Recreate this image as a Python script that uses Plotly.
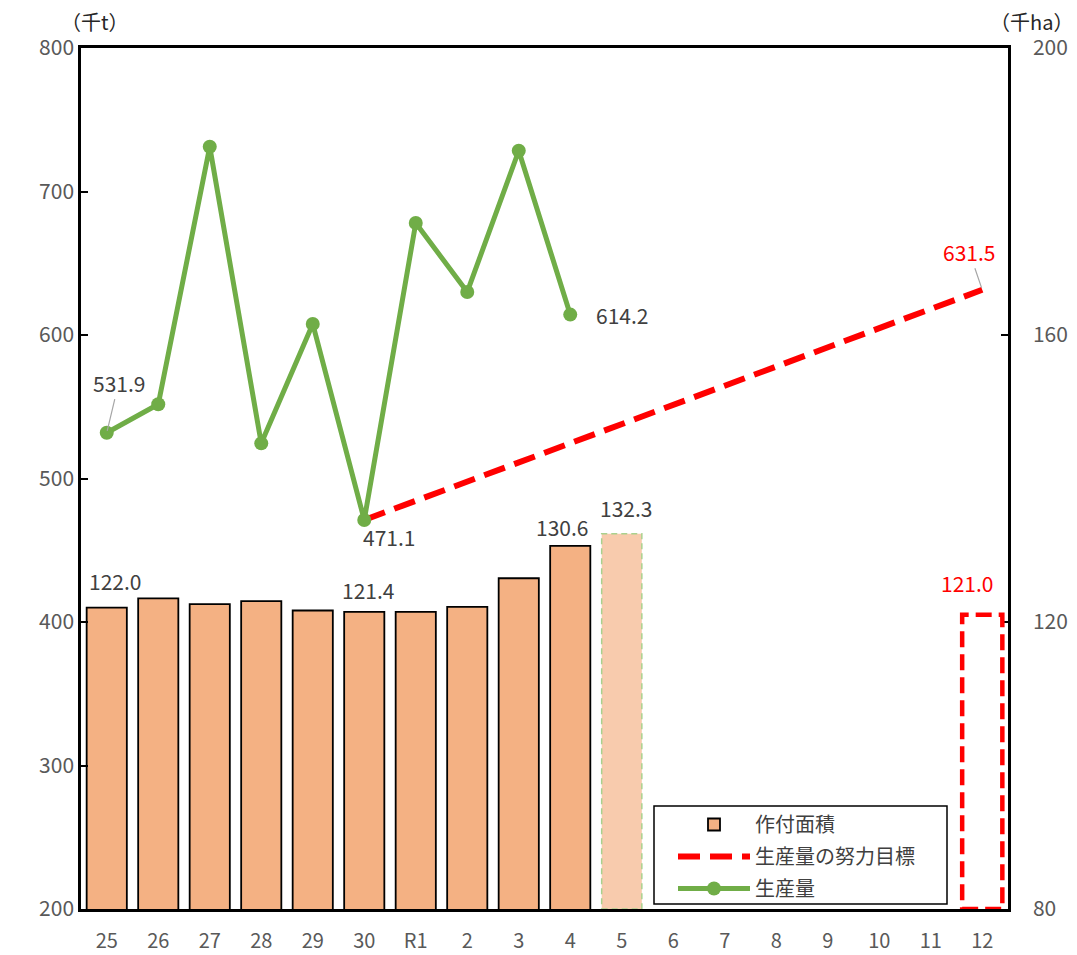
import plotly.graph_objects as go

# ---------------- data ----------------
categories = ["25", "26", "27", "28", "29", "30", "R1", "2", "3", "4",
              "5", "6", "7", "8", "9", "10", "11", "12"]

# 作付面積 (千ha), 25 .. 4
area_years = ["25", "26", "27", "28", "29", "30", "R1", "2", "3", "4"]
area_values = [122.0, 123.3, 122.5, 122.9, 121.6, 121.4, 121.4, 122.1, 126.1, 130.6]

# 5 (見込み) and 12 (目標)
area_est_year = "5"
area_est_value = 132.3
area_target_year = "12"
area_target_value = 121.0

# 生産量 (千t), 25 .. 4
prod_years = ["25", "26", "27", "28", "29", "30", "R1", "2", "3", "4"]
prod_values = [531.9, 551.7, 731.2, 524.5, 607.7, 471.1, 678.0, 630.0, 728.4, 614.2]

# 生産量の努力目標
target_years = ["30", "12"]
target_values = [471.1, 631.5]

left_ticks = [200, 300, 400, 500, 600, 700, 800]
right_ticks = [80, 120, 160, 200]

# ---------------- styling ----------------
FONT = "Noto Sans CJK JP, Noto Sans, sans-serif"
TICK_COLOR = "#595959"
LABEL_COLOR = "#404040"
BAR_FILL = "#F4B183"
BAR_EST_FILL = "#F8CBAD"
GREEN = "#70AD47"
RED = "#FF0000"
BAR_W = 0.78
LBL = 21

# plot-area geometry (figure px); page body margin of 8px compensated
FIG_W, FIG_H = 1069, 947
M_L, M_R, M_T, M_B = 73, 69, 40, 46
PW = FIG_W - M_L - M_R
PH = FIG_H - M_T - M_B


def px_x(vx):  # viewport x -> paper fraction
    return (vx - 8 - M_L) / PW


def px_y(vy):  # viewport y -> paper fraction
    return 1 - (vy - 8 - M_T) / PH


idx = {c: i for i, c in enumerate(categories)}
area_map = dict(zip(area_years, area_values))

fig = go.Figure()

# main bars
fig.add_trace(go.Bar(
    x=[idx[c] for c in area_years], y=area_values,
    width=BAR_W, name="作付面積", legendgroup="a",
    marker=dict(color=BAR_FILL, line=dict(color="black", width=1.8)),
    yaxis="y", hoverinfo="skip",
))

# target line
fig.add_trace(go.Scatter(
    x=[idx[c] for c in target_years], y=target_values, mode="lines",
    name="生産量の努力目標", legendgroup="b",
    line=dict(color=RED, width=6, dash="22px,10px"),
    yaxis="y2", hoverinfo="skip",
))

# production line
fig.add_trace(go.Scatter(
    x=[idx[c] for c in prod_years], y=prod_values, mode="lines+markers",
    name="生産量", legendgroup="c",
    line=dict(color=GREEN, width=5),
    marker=dict(color=GREEN, size=14),
    yaxis="y2", hoverinfo="skip", cliponaxis=False,
))

# estimated bar (5)
fig.add_trace(go.Bar(
    x=[idx[area_est_year]], y=[area_est_value], width=BAR_W,
    marker=dict(color=BAR_EST_FILL, line=dict(width=0)),
    showlegend=False, yaxis="y", hoverinfo="skip",
))

# target bar (12) – outline drawn as shape
fig.add_trace(go.Bar(
    x=[idx[area_target_year]], y=[area_target_value], width=BAR_W,
    marker=dict(color="rgba(255,255,255,0)", line=dict(width=0)),
    showlegend=False, yaxis="y", hoverinfo="skip",
))

shapes = [
    dict(type="rect", xref="x", yref="y",
         x0=idx[area_est_year] - BAR_W / 2, x1=idx[area_est_year] + BAR_W / 2,
         y0=right_ticks[0], y1=area_est_value,
         line=dict(color="#A9D18E", width=1.5, dash="6px,4px"), layer="above"),
    dict(type="rect", xref="x", yref="y",
         x0=idx[area_target_year] - BAR_W / 2, x1=idx[area_target_year] + BAR_W / 2,
         y0=right_ticks[0], y1=area_target_value,
         line=dict(color=RED, width=4.5, dash="16px,7px"), layer="above"),
    # legend frame
    dict(type="rect", xref="paper", yref="paper",
         x0=px_x(654), x1=px_x(947), y0=px_y(904), y1=px_y(806),
         fillcolor="white", line=dict(color="black", width=1.5), layer="above"),
]


def bar_label(cat, val, color, xs, ys):
    return dict(x=idx[cat], y=val, xref="x", yref="y", text=f"{val:.1f}",
                showarrow=False, xshift=xs, yshift=ys, yanchor="middle",
                font=dict(size=LBL, color=color, family=FONT))


annotations = [
    bar_label("25", area_map["25"], LABEL_COLOR, 8, 27),
    bar_label("30", area_map["30"], LABEL_COLOR, 4, 22),
    bar_label("4", area_map["4"], LABEL_COLOR, -8, 19),
    bar_label(area_est_year, area_est_value, LABEL_COLOR, 4, 26),
    bar_label(area_target_year, area_target_value, RED, -15, 32),
    # 531.9 with leader
    dict(x=idx[prod_years[0]], y=prod_values[0], xref="x", yref="y2",
         text=f"{prod_values[0]:.1f}", showarrow=True, arrowhead=0, arrowwidth=1.2,
         arrowcolor="#A6A6A6", ax=12, ay=-50, standoff=2, startstandoff=0,
         font=dict(size=LBL, color=LABEL_COLOR, family=FONT)),
    # 471.1 below
    dict(x=idx[prod_years[5]], y=prod_values[5], xref="x", yref="y2",
         text=f"{prod_values[5]:.1f}", showarrow=False, xshift=25, yshift=-17,
         font=dict(size=LBL, color=LABEL_COLOR, family=FONT)),
    # 614.2 right
    dict(x=idx[prod_years[-1]], y=prod_values[-1], xref="x", yref="y2",
         text=f"{prod_values[-1]:.1f}", showarrow=False, xshift=52, yshift=0,
         font=dict(size=LBL, color=LABEL_COLOR, family=FONT)),
    # 631.5 red with leader
    dict(x=idx[target_years[-1]], y=target_values[-1], xref="x", yref="y2",
         text=f"{target_values[-1]:.1f}", showarrow=True, arrowhead=0, arrowwidth=1.2,
         arrowcolor="#A6A6A6", ax=-13, ay=-38, standoff=2,
         font=dict(size=LBL, color=RED, family=FONT)),
    # unit titles
    dict(x=0.015, y=1.031, xref="paper", yref="paper", text="（千t）",
         showarrow=False, xanchor="center", yanchor="middle",
         font=dict(size=20, color="#262626", family=FONT)),
    dict(x=1.072, y=1.031, xref="paper", yref="paper", text="（千ha）",
         showarrow=False, xanchor="right", yanchor="middle",
         font=dict(size=20, color="#262626", family=FONT)),
]

fig.update_layout(
    width=FIG_W, height=FIG_H,
    margin=dict(l=M_L, r=M_R, t=M_T, b=M_B, autoexpand=False),
    paper_bgcolor="white", plot_bgcolor="white",
    font=dict(family=FONT, size=20, color=TICK_COLOR),
    barmode="overlay",
    showlegend=True,
    legend=dict(x=px_x(673), y=px_y(805), xanchor="left", yanchor="top",
                bgcolor="rgba(0,0,0,0)", borderwidth=0,
                font=dict(size=20, color=LABEL_COLOR, family=FONT),
                itemwidth=72, traceorder="grouped", tracegroupgap=3),
    xaxis=dict(range=[-0.5, len(categories) - 0.5], automargin=False,
               tickmode="array", tickvals=list(range(len(categories))), ticktext=categories,
               ticks="", showgrid=False, zeroline=False, ticklabelstandoff=12,
               showline=True, linecolor="black", linewidth=2.5, mirror=True,
               tickfont=dict(size=20, color=TICK_COLOR, family=FONT)),
    yaxis=dict(range=[right_ticks[0], right_ticks[-1]], side="right", automargin=False,
               tickmode="array", tickvals=right_ticks,
               ticks="inside", ticklen=7, tickwidth=1.5, tickcolor="black",
               showgrid=False, zeroline=False, ticklabelstandoff=18,
               showline=True, linecolor="black", linewidth=2.5,
               tickfont=dict(size=21, color=TICK_COLOR, family=FONT)),
    yaxis2=dict(range=[left_ticks[0], left_ticks[-1]], side="left", overlaying="y",
                automargin=False,
                tickmode="array", tickvals=left_ticks,
                ticks="inside", ticklen=7, tickwidth=1.5, tickcolor="black",
                showgrid=False, zeroline=False,
                showline=True, linecolor="black", linewidth=2.5,
                tickfont=dict(size=21, color=TICK_COLOR, family=FONT)),
    shapes=shapes,
    annotations=annotations,
)

fig.write_html("out.html")
